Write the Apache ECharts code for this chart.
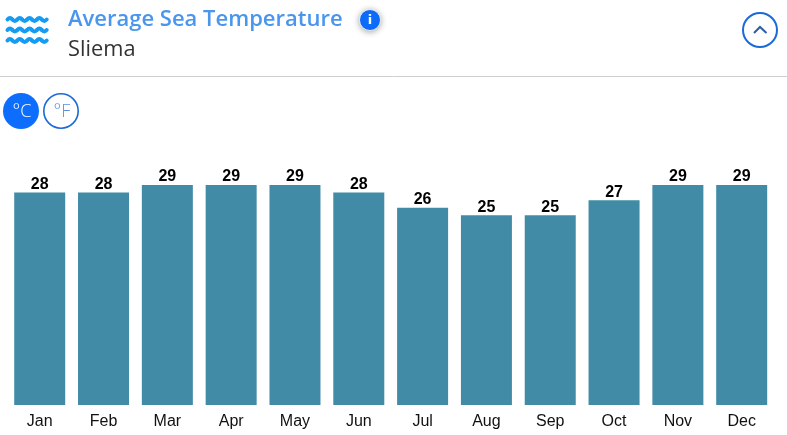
<!DOCTYPE html>
<html>
<head>
<meta charset="utf-8">
<style>
  html, body { margin: 0; padding: 0; background: #fff; }
  #chart { width: 787px; height: 435px; }
</style>
<script src="https://cdn.jsdelivr.net/npm/echarts@6/dist/echarts.min.js"></script>
</head>
<body>
<div id="chart"></div>
<script>
// Monthly average sea temperature for Sliema, in degrees Celsius
const months = ['Jan', 'Feb', 'Mar', 'Apr', 'May', 'Jun', 'Jul', 'Aug', 'Sep', 'Oct', 'Nov', 'Dec'];
const seaTemps = [28, 28, 29, 29, 29, 28, 26, 25, 25, 27, 29, 29];
const titleText = 'Average Sea Temperature';
const placeText = 'Sliema';

const BLUE = '#0d6efd';
const headerFont = '"Open Sans", sans-serif';
const chartFont = '"Liberation Sans", Arial, sans-serif';

// One line of the waves icon: alternating half-waves, starting from a trough
function waveRow(x0, y, halves, w, amp) {
  const arcs = [];
  for (let i = 0; i < halves; i++) {
    const x = x0 + i * w;
    const dir = i % 2 === 0 ? -1 : 1;
    arcs.push({
      type: 'bezierCurve',
      shape: { x1: x, y1: y, x2: x + w, y2: y, cpx1: x + w / 2, cpy1: y + dir * amp * 2 },
      style: { fill: null, stroke: '#169bf2', lineWidth: 4, lineCap: 'round' }
    });
  }
  return arcs;
}
const waveRows = [19.5, 30, 40.5].flatMap(y => waveRow(7.5, y, 8, 4.9, 1.4));

const header = [
  ...waveRows,
  { type: 'text', x: 68, y: 20, style: { text: titleText, fill: '#4a96ee', font: '600 22px ' + headerFont, verticalAlign: 'middle' } },
  { type: 'text', x: 68, y: 50, style: { text: placeText, fill: '#333', font: '400 21.8px ' + headerFont, verticalAlign: 'middle' } },
  // info badge
  { type: 'circle', shape: { cx: 370, cy: 20, r: 10.5 }, style: { fill: BLUE, stroke: '#fff', lineWidth: 0.8, shadowBlur: 6, shadowColor: 'rgba(0,0,0,0.35)', shadowOffsetY: 1 } },
  { type: 'text', x: 370, y: 20.5, style: { text: 'i', fill: '#fff', font: '900 13px "DejaVu Sans", sans-serif', align: 'center', verticalAlign: 'middle' } },
  // collapse button
  { type: 'circle', shape: { cx: 760, cy: 30, r: 17 }, style: { fill: '#fff', stroke: '#1a6ad8', lineWidth: 2 } },
  { type: 'polyline', shape: { points: [[754, 33], [760, 27], [766.5, 33]] }, style: { fill: null, stroke: '#2a5ea8', lineWidth: 2 } },
  // divider
  { type: 'line', shape: { x1: 0, y1: 76.5, x2: 787, y2: 76.5 }, style: { stroke: '#cfcfcf', lineWidth: 1 } },
  // unit switch
  { type: 'circle', shape: { cx: 21, cy: 111, r: 18 }, style: { fill: BLUE } },
  { type: 'text', x: 22, y: 112, style: { text: '°C', fill: '#fff', font: '300 18px ' + headerFont, align: 'center', verticalAlign: 'middle' } },
  { type: 'circle', shape: { cx: 61, cy: 111, r: 17.2 }, style: { fill: '#fff', stroke: '#1a6ad8', lineWidth: 1.6 } },
  { type: 'text', x: 62, y: 112, style: { text: '°F', fill: '#5d8fe0', font: '300 18px ' + headerFont, align: 'center', verticalAlign: 'middle' } }
];

const chart = echarts.init(document.getElementById('chart'), null, { renderer: 'canvas' });
chart.setOption({
  animation: false,
  backgroundColor: '#fff',
  graphic: { elements: header },
  grid: { left: 7.8, right: 13.4, top: 185, bottom: 30 },
  xAxis: {
    type: 'category',
    data: months,
    axisLine: { show: false },
    axisTick: { show: false },
    axisLabel: { color: '#111', fontFamily: chartFont, fontSize: 16, margin: 9 }
  },
  yAxis: {
    type: 'value',
    min: 0,
    max: 29,
    show: false
  },
  series: [{
    type: 'bar',
    data: seaTemps,
    barWidth: 51,
    itemStyle: { color: '#418ba6' },
    label: {
      show: true,
      position: 'top',
      distance: 0,
      color: '#000',
      fontFamily: chartFont,
      fontWeight: 'bold',
      fontSize: 16
    }
  }]
});
</script>
</body>
</html>
